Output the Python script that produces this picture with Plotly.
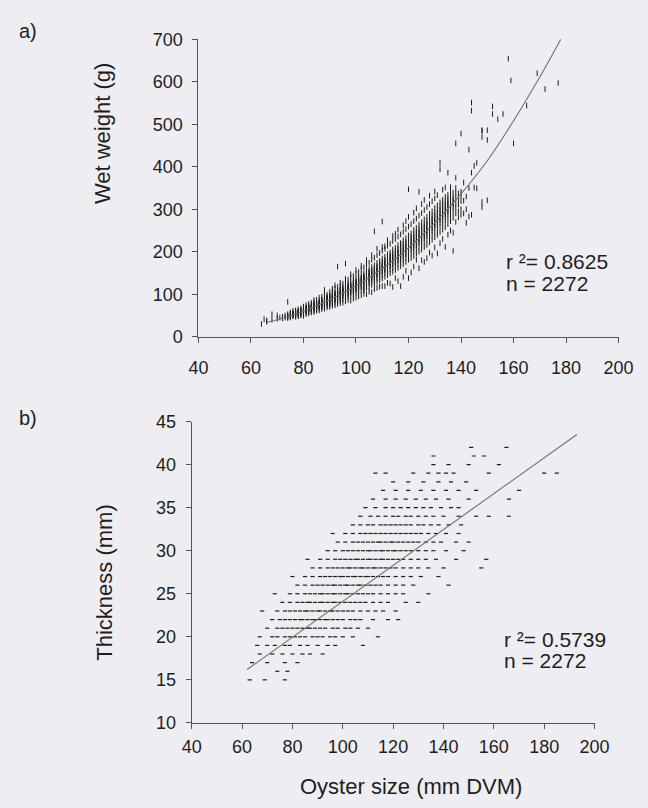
import plotly.graph_objects as go

# ---- a) wet weight vs oyster size: (size mm, [wet weights g]) per size column ----
wet_columns = [
    (64, [30]), (65, [41]), (66, [35, 38]), (68, [53, 40]), (70, [50, 42]),
    (71, [45]), (72, [47, 43]), (73, [50, 45]),
    (74, [44, 48, 50, 53, 46, 82]),
    (75, [47, 49, 54, 51, 57, 45]),
    (76, [48, 52, 54, 56, 50, 53, 61]),
    (77, [50, 53, 57, 58, 52, 47, 62]),
    (78, [51, 55, 59, 60, 54, 57, 64, 48]),
    (79, [53, 57, 59, 63, 55, 61, 67, 50]),
    (80, [54, 58, 60, 64, 66, 59, 62, 71, 49]),
    (81, [57, 61, 63, 67, 69, 60, 65, 53, 74]),
    (82, [58, 63, 65, 69, 72, 64, 67, 55, 77]),
    (83, [61, 65, 68, 70, 75, 66, 69, 73, 57, 80]),
    (84, [62, 67, 69, 73, 76, 68, 71, 75, 58, 86, 81]),
    (85, [65, 69, 72, 76, 79, 70, 74, 78, 61, 87]),
    (86, [66, 71, 74, 78, 81, 84, 73, 76, 80, 62, 92]),
    (87, [69, 73, 77, 80, 85, 87, 75, 79, 82, 65, 94]),
    (88, [71, 75, 78, 83, 86, 91, 80, 84, 89, 66, 101, 110]),
    (89, [73, 78, 81, 86, 89, 94, 83, 87, 92, 69, 99]),
    (90, [76, 81, 84, 89, 92, 97, 86, 91, 95, 70, 105, 77]),
    (91, [78, 83, 87, 92, 95, 100, 89, 93, 98, 73, 108, 113]),
    (92, [80, 86, 89, 95, 98, 104, 91, 97, 101, 74, 114, 121]),
    (93, [83, 89, 92, 98, 101, 107, 95, 100, 105, 77, 117, 165]),
    (94, [85, 91, 95, 100, 104, 110, 113, 97, 103, 108, 79, 120, 127]),
    (95, [88, 94, 98, 104, 107, 113, 117, 101, 106, 111, 80, 125]),
    (96, [91, 97, 101, 107, 111, 117, 121, 104, 110, 114, 83, 132, 172, 136]),
    (97, [94, 100, 104, 110, 114, 120, 125, 107, 112, 118, 86, 134]),
    (98, [97, 103, 107, 113, 117, 123, 128, 110, 116, 121, 85, 139, 147]),
    (99, [100, 106, 111, 117, 121, 127, 132, 113, 119, 125, 90, 143]),
    (100, [103, 109, 114, 120, 125, 131, 136, 117, 123, 129, 92, 148, 157]),
    (101, [106, 113, 117, 124, 129, 135, 141, 120, 127, 133, 95, 152]),
    (102, [109, 116, 121, 128, 133, 139, 146, 124, 131, 137, 98, 158, 167]),
    (103, [112, 119, 124, 132, 137, 144, 149, 128, 135, 141, 101, 163, 110]),
    (104, [115, 123, 128, 136, 141, 149, 155, 131, 139, 145, 100, 169, 180]),
    (105, [118, 126, 132, 139, 145, 153, 159, 135, 143, 150, 106, 174]),
    (106, [122, 130, 136, 143, 149, 157, 164, 139, 147, 154, 105, 181, 192]),
    (107, [125, 133, 139, 147, 153, 161, 168, 143, 151, 158, 112, 186, 248]),
    (108, [129, 137, 143, 151, 158, 166, 174, 147, 155, 163, 115, 192, 207]),
    (109, [133, 141, 148, 156, 162, 171, 178, 151, 160, 167, 118, 197]),
    (110, [137, 145, 152, 161, 167, 176, 184, 156, 164, 172, 119, 202, 271, 211]),
    (111, [141, 150, 156, 165, 172, 181, 188, 160, 169, 177, 119, 207, 213]),
    (112, [145, 154, 161, 170, 177, 186, 194, 165, 174, 182, 127, 214, 227]),
    (113, [149, 158, 165, 175, 182, 191, 198, 169, 179, 187, 125, 219]),
    (114, [153, 162, 170, 179, 187, 196, 205, 174, 184, 192, 117, 225, 237]),
    (115, [157, 167, 175, 184, 192, 202, 209, 179, 189, 197, 138, 230, 242]),
    (116, [162, 172, 179, 189, 197, 207, 216, 184, 194, 203, 131, 236, 252]),
    (117, [166, 176, 184, 194, 202, 212, 220, 189, 199, 208, 119, 241, 219]),
    (118, [171, 181, 189, 199, 207, 218, 227, 194, 204, 213, 141, 247, 262]),
    (119, [176, 186, 194, 205, 213, 223, 232, 199, 209, 219, 155, 253, 272]),
    (120, [181, 191, 200, 210, 219, 229, 238, 205, 215, 225, 138, 259, 282, 347]),
    (121, [185, 196, 205, 215, 224, 235, 243, 210, 220, 230, 151, 265]),
    (122, [190, 201, 210, 221, 230, 241, 251, 215, 226, 236, 165, 272, 292]),
    (123, [195, 206, 215, 227, 236, 247, 256, 221, 232, 242, 181, 278, 302]),
    (124, [200, 211, 221, 232, 241, 253, 263, 226, 237, 248, 161, 285, 341]),
    (125, [205, 217, 226, 238, 248, 259, 269, 232, 243, 254, 180, 291, 312]),
    (126, [211, 222, 232, 244, 254, 265, 276, 237, 249, 260, 176, 298, 322]),
    (127, [216, 228, 238, 250, 260, 272, 282, 243, 255, 266, 185, 305]),
    (128, [222, 234, 244, 256, 266, 278, 289, 249, 261, 272, 198, 312, 332]),
    (129, [228, 240, 250, 263, 273, 285, 295, 255, 268, 279, 191, 319]),
    (130, [234, 246, 257, 269, 279, 292, 303, 262, 274, 286, 210, 326, 342]),
    (131, [240, 252, 263, 276, 286, 299, 309, 268, 281, 293, 196, 333]),
    (132, [246, 259, 270, 282, 293, 306, 316, 275, 288, 300, 220, 394, 409]),
    (133, [252, 265, 276, 289, 300, 313, 322, 282, 295, 307, 230, 346]),
    (134, [258, 271, 282, 295, 306, 319, 329, 288, 301, 313, 211, 351]),
    (135, [265, 278, 289, 302, 313, 325, 334, 295, 308, 319, 240, 386]),
    (136, [272, 285, 296, 309, 320, 332, 341, 302, 315, 327, 250, 352]),
    (137, [280, 293, 304, 317, 328, 339, 202, 245, 311, 323]),
    (138, [290, 303, 314, 327, 338, 350, 374, 455, 270]),
    (139, [295, 311, 322, 337, 281]),
    (140, [300, 319, 341, 478, 287, 331]),
    (141, [363, 290, 320]), (142, [300, 268, 330]),
    (143, [440, 283, 350]), (144, [386, 551, 532, 287]), (145, [402, 351]),
    (146, [409, 349]), (148, [305, 317, 486, 484, 470]), (150, [321, 463, 486]),
    (152, [524, 542]), (154, [512]), (156, [524]), (158, [654]), (159, [603]),
    (160, [455]), (165, [544]), (169, [620]), (172, [583]), (177, [597]),
]

# fitted power curve for a), read at regular sizes
fit_a_size = [66, 70, 80, 90, 100, 110, 120, 130, 140, 150, 160, 170, 178]
fit_a_weight = [34, 40, 60, 87, 120, 160, 209, 268, 336, 414, 508, 611, 700]

# ---- b) shell thickness vs oyster size: (thickness mm, [sizes mm]) per thickness row ----
thick_rows = [
    (15, [63, 69, 77]),
    (16, [74, 78]),
    (17, [64, 70, 77, 82]),
    (18, [67, 72, 76, 80, 84, 87, 92]),
    (19, [66, 70, 73, 77, 79, 83, 86, 90, 94, 97, 108]),
    (20, [67, 72, 74, 77, 79, 81, 83, 85, 88, 90, 92, 95, 97, 100, 104, 114]),
    (21, [70, 74, 76, 78, 80, 82, 84, 86, 87, 89, 91, 93, 96, 98, 101, 103, 106, 110]),
    (22, [72, 75, 77, 79, 81, 83, 84, 86, 88, 89, 91, 93, 94, 96, 98, 100, 103, 105,
          107, 112, 118, 122]),
    (23, [68, 74, 77, 79, 81, 83, 85, 86, 88, 90, 91, 93, 95, 96, 98, 100, 102, 104, 107,
          110, 113, 116, 121]),
    (24, [76, 79, 82, 84, 86, 87, 89, 91, 92, 94, 96, 97, 99, 101, 103, 105, 107, 109,
          112, 115, 118, 125, 130]),
    (25, [73, 79, 82, 85, 87, 89, 91, 92, 94, 96, 97, 99, 101, 102, 104, 106, 108, 110, 112,
          115, 118, 121, 124, 134]),
    (26, [82, 85, 88, 90, 92, 94, 96, 97, 99, 101, 102, 104, 106, 107, 109, 111, 113, 115,
          118, 121, 124, 128, 142]),
    (27, [80, 85, 88, 91, 93, 95, 97, 99, 100, 102, 104, 105, 107, 109, 110, 112, 114, 116, 118,
          121, 124, 127, 131, 138]),
    (28, [88, 91, 94, 96, 98, 100, 102, 103, 105, 107, 108, 110, 112, 113, 115, 117, 119, 121,
          124, 127, 130, 134, 140, 155]),
    (29, [86, 91, 94, 97, 99, 101, 103, 105, 106, 108, 110, 111, 113, 115, 116, 118, 120, 122, 124,
          127, 130, 133, 137, 145, 157]),
    (30, [94, 97, 100, 102, 104, 106, 108, 110, 111, 113, 115, 116, 118, 120, 121, 123, 125, 127,
          130, 133, 136, 141, 148]),
    (31, [98, 101, 104, 106, 108, 110, 112, 114, 115, 117, 119, 120, 122, 124, 126, 128, 130, 133,
          136, 139, 145, 150]),
    (32, [96, 101, 104, 107, 109, 111, 113, 115, 117, 119, 121, 123, 125, 127, 129, 131, 134, 137,
          141, 146]),
    (33, [104, 107, 110, 112, 115, 117, 119, 121, 123, 125, 127, 130, 132, 135, 138, 142, 147]),
    (34, [107, 111, 114, 117, 120, 122, 125, 127, 130, 133, 136, 140, 146, 153, 158, 166]),
    (35, [109, 113, 117, 120, 123, 126, 129, 132, 135, 139, 143, 146]),
    (36, [112, 117, 121, 125, 129, 133, 137, 142, 150, 166]),
    (37, [116, 121, 126, 131, 136, 141, 146, 153, 170]),
    (38, [120, 126, 132, 138, 143, 149]),
    (39, [113, 117, 128, 134, 138, 141, 144, 158, 180, 185]),
    (40, [136, 142, 150, 162]),
    (41, [136, 152, 156]),
    (42, [151, 165]),
]

# fitted straight line for b)
fit_b_size = [62, 106, 193]
fit_b_thick = [16.2, 25.4, 43.5]

stats_a = ["r ²= 0.8625", "n = 2272"]
stats_b = ["r ²= 0.5739", "n = 2272"]

size_a = [x for x, ys in wet_columns for _ in ys]
weight_a = [y for _, ys in wet_columns for y in ys]
size_b = [x for _, xs in thick_rows for x in xs]
thick_b = [t for t, xs in thick_rows for _ in xs]

W, H = 648, 808
FONT = "Liberation Sans, Arial, sans-serif"
INK = "#1e1e1e"
AXIS = "#555555"
BG = "#eeeef2"


def px_x(p):
    return p / W


def px_y(p):
    return 1 - p / H


fig = go.Figure()

fig.add_trace(go.Scatter(
    x=size_a, y=weight_a, mode="markers", xaxis="x", yaxis="y",
    marker=dict(symbol="line-ns", size=4, line=dict(width=1, color=INK)),
    showlegend=False, hoverinfo="skip"))
fig.add_trace(go.Scatter(
    x=fit_a_size, y=fit_a_weight, mode="lines", xaxis="x", yaxis="y",
    line=dict(color="#707070", width=1.1, shape="spline"),
    showlegend=False, hoverinfo="skip"))

fig.add_trace(go.Scatter(
    x=size_b, y=thick_b, mode="markers", xaxis="x2", yaxis="y2",
    marker=dict(symbol="line-ew", size=3, line=dict(width=1.2, color=INK)),
    showlegend=False, hoverinfo="skip"))
fig.add_trace(go.Scatter(
    x=fit_b_size, y=fit_b_thick, mode="lines", xaxis="x2", yaxis="y2",
    line=dict(color="#707070", width=1.1),
    showlegend=False, hoverinfo="skip"))

tickfont = dict(family=FONT, size=18, color=INK)
common = dict(showline=True, linecolor=AXIS, linewidth=1, ticks="outside",
              tickcolor=AXIS, ticklen=5, tickwidth=1, showgrid=False,
              zeroline=False, tickfont=tickfont, fixedrange=True)

fig.update_layout(
    width=W, height=H, margin=dict(l=0, r=0, t=0, b=0),
    paper_bgcolor=BG, plot_bgcolor=BG,
    xaxis=dict(domain=[px_x(196), px_x(633)], range=[40, 200], dtick=20,
               anchor="y", ticklabelstandoff=10, **common),
    yaxis=dict(domain=[px_y(335), px_y(30)], range=[0, 700], dtick=100,
               anchor="x", ticklabelstandoff=6, **common),
    xaxis2=dict(domain=[px_x(189), px_x(608)], range=[40, 200], dtick=20,
                anchor="y2", ticklabelstandoff=2, **common),
    yaxis2=dict(domain=[px_y(731), px_y(422)], range=[10, 45], dtick=5,
                anchor="x2", ticklabelstandoff=6, **common),
)

labfont = dict(family=FONT, size=22, color=INK)
notefont = dict(family=FONT, size=21, color=INK)

annots = [
    dict(text="a)", x=px_x(19), y=px_y(22), font=dict(family=FONT, size=20, color=INK)),
    dict(text="b)", x=px_x(19), y=px_y(418), font=dict(family=FONT, size=20, color=INK)),
    dict(text="Wet weight (g)", x=px_x(97), y=px_y(127), textangle=-90, font=labfont),
    dict(text="Thickness (mm)", x=px_x(98), y=px_y(587), textangle=-90, font=labfont),
    dict(text="Oyster size (mm DVM)", x=px_x(417), y=px_y(796), font=labfont),
]
for i, t in enumerate(stats_a):
    annots.append(dict(text=t, x=px_x(514), y=px_y(258 + 22 * i), xanchor="left", font=notefont))
for i, t in enumerate(stats_b):
    annots.append(dict(text=t, x=px_x(512), y=px_y(645 + 22 * i), xanchor="left", font=notefont))

for a in annots:
    a.setdefault("xanchor", "center")
    a.update(xref="paper", yref="paper", showarrow=False, yanchor="middle")
    fig.add_annotation(**a)

fig.write_html("out.html")
